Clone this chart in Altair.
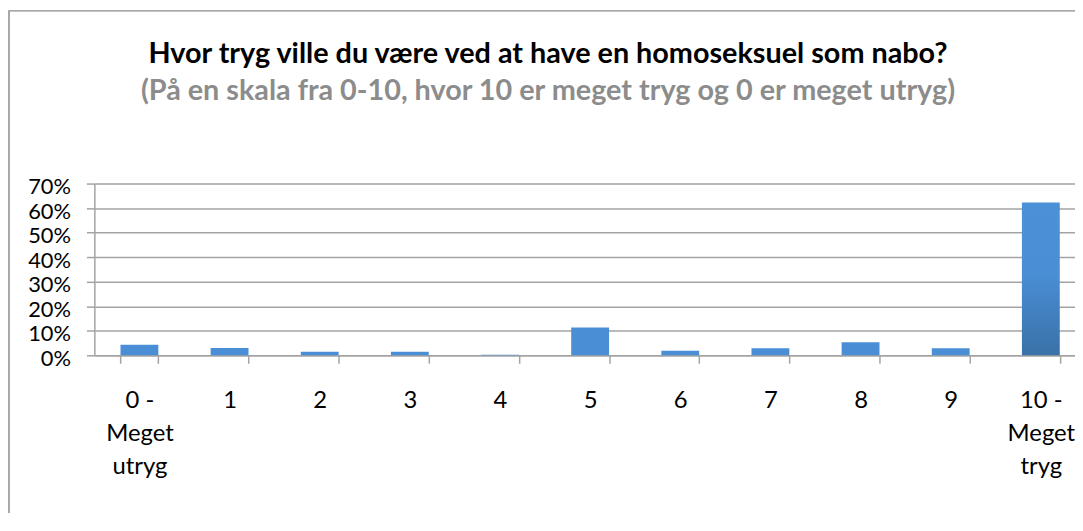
import altair as alt
import pandas as pd

# ---- data ----
categories = ["0 -\nMeget\nutryg", "1", "2", "3", "4", "5", "6", "7", "8", "9", "10 -\nMeget\ntryg"]
shares = [4.3, 3.0, 1.4, 1.4, 0.2, 11.3, 1.8, 2.9, 5.3, 2.9, 62.3]
y_ticks = [0, 10, 20, 30, 40, 50, 60, 70]
title_text = "Hvor tryg ville du være ved at have en homoseksuel som nabo?"
subtitle_text = "(På en skala fra 0-10, hvor 10 er meget tryg og 0 er meget utryg)"

df = pd.DataFrame({"kategori": categories, "andel": shares})

FONT = "Lato"
GRID = "#a3a3a3"
BLUE = "#4a8fd6"

x_enc = alt.X(
    "kategori:N",
    sort=categories,
    scale=alt.Scale(range=[0, 999], paddingInner=0.58, paddingOuter=0.29),
    axis=alt.Axis(
        title=None,
        labelAngle=0,
        labelExpr="split(datum.label, '\\n')",
        labelFont=FONT,
        labelFontSize=24,
        labelColor="#000000",
        labelPadding=26,
        labelLineHeight=33,
        labelBaseline="top",
        tickBand="extent",
        ticks=True,
        tickSize=8,
        tickColor=GRID,
        tickWidth=1.5,
        domainColor=GRID,
        domainWidth=1.5,
        grid=False,
    ),
)
y_enc = alt.Y(
    "andel:Q",
    scale=alt.Scale(domain=[0, 70], nice=False),
    axis=alt.Axis(
        title=None,
        values=y_ticks,
        labelExpr="datum.value + '%'",
        labelFont=FONT,
        labelFontSize=22,
        labelColor="#000000",
        labelPadding=16,
        labelOffset=3,
        tickSize=8,
        tickColor=GRID,
        tickWidth=1.5,
        domainColor=GRID,
        domainWidth=1.5,
        grid=True,
        gridColor=GRID,
        gridWidth=1.5,
    ),
)

base = alt.Chart(df)

small_bars = base.transform_filter("datum.andel < 30").mark_bar(color=BLUE).encode(x=x_enc, y=y_enc)

big_bars = base.transform_filter("datum.andel >= 30").mark_bar(
    color=alt.Gradient(
        gradient="linear",
        x1=0, y1=0, x2=0, y2=1,
        stops=[
            alt.GradientStop(color="#4a91d8", offset=0),
            alt.GradientStop(color="#4a8fd6", offset=0.45),
            alt.GradientStop(color="#3a71a8", offset=1),
        ],
    )
).encode(x=x_enc, y=y_enc)

one = pd.DataFrame({"t": [title_text], "s": [subtitle_text]})

title_mark = alt.Chart(one).mark_text(
    font=FONT, fontSize=29, fontWeight="bold", color="#000000", align="center", baseline="middle"
).encode(text="t:N", x=alt.value(457), y=alt.value(-130.5))

subtitle_mark = alt.Chart(one).mark_text(
    font=FONT, fontSize=29, fontWeight="bold", color="#8c8c8c", align="center", baseline="middle"
).encode(text="s:N", x=alt.value(457), y=alt.value(-93.5))

border = alt.Chart(one).mark_rect(fill="transparent", stroke="#8c8c8c", strokeWidth=1.5).encode(
    x=alt.value(-86), x2=alt.value(1200), y=alt.value(-174), y2=alt.value(600)
)

chart = (
    alt.layer(border, small_bars, big_bars, title_mark, subtitle_mark)
    .properties(
        width=988,
        height=173,
        autosize=alt.AutoSizeParams(type="none"),
        padding={"left": 87, "top": 175, "right": 0, "bottom": 157},
        background="#ffffff",
    )
    .configure_view(stroke=None)
)

chart.save("out.html", embed_options={"renderer": "svg", "actions": False})
